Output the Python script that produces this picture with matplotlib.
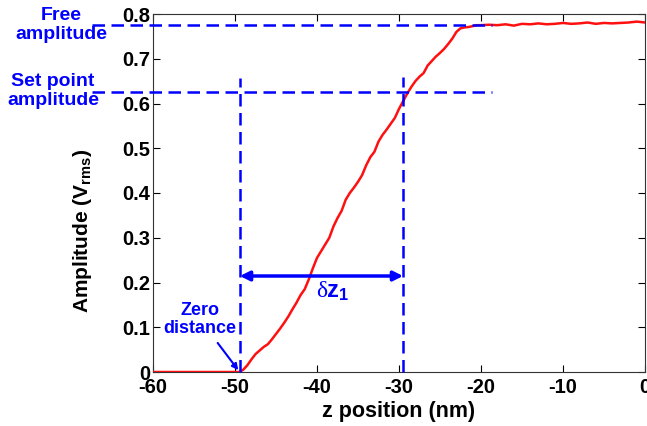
import matplotlib.pyplot as plt

# curve: z position (nm) and amplitude (V rms)
z_nm = [-60, -55, -49.5, -49.0, -48.5, -48.0, -47.5, -47.0, -46.5, -46.0, -45.5, -45.0,
        -44.5, -44.0, -43.5, -43.0, -42.5, -42.0, -41.5, -41.0, -40.5, -40.0, -39.5,
        -39.0, -38.5, -38.0, -37.5, -37.0, -36.5, -36.0, -35.5, -35.0, -34.5, -34.0,
        -33.5, -33.0, -32.5, -32.0, -31.5, -31.0, -30.5, -30.0, -29.5, -29.0, -28.5,
        -28.0, -27.5, -27.0, -26.5, -26.0, -25.5, -25.0, -24.5, -24.0, -23.5, -23.0,
        -22.5, -22.0, -21.5, -21.0, -20.5, -20.0, -19, -18, -17, -16, -15, -14, -13,
        -12, -11, -10, -9, -8, -7, -6, -5, -4, -3, -2, -1, 0]
amp = [0.0, 0.0, 0.0, 0.005, 0.015, 0.028, 0.040, 0.048, 0.056, 0.062, 0.073, 0.085,
       0.097, 0.110, 0.124, 0.140, 0.155, 0.172, 0.185, 0.207, 0.232, 0.255, 0.270,
       0.285, 0.300, 0.325, 0.344, 0.360, 0.385, 0.400, 0.412, 0.425, 0.440, 0.462,
       0.480, 0.492, 0.515, 0.530, 0.542, 0.555, 0.568, 0.588, 0.605, 0.622, 0.637,
       0.650, 0.660, 0.668, 0.685, 0.695, 0.705, 0.713, 0.722, 0.733, 0.745, 0.760,
       0.768, 0.770, 0.771, 0.773, 0.775, 0.775, 0.776, 0.775, 0.777, 0.774, 0.778,
       0.777, 0.779, 0.777, 0.778, 0.780, 0.778, 0.779, 0.781, 0.778, 0.780, 0.779,
       0.780, 0.781, 0.783, 0.781]

free_amp = 0.775
setpoint_amp = 0.626
z_zero = -49.4
z_set = -29.5
x_ticks = [-60, -50, -40, -30, -20, -10, 0]
y_ticks = [0, 0.1, 0.2, 0.3, 0.4, 0.5, 0.6, 0.7, 0.8]

plt.rcParams['font.family'] = ['Liberation Sans', 'DejaVu Sans']
plt.rcParams['mathtext.fontset'] = 'custom'
plt.rcParams['mathtext.rm'] = 'Liberation Sans'
plt.rcParams['mathtext.bf'] = 'Liberation Sans:bold'
blue = '#0000ff'

fig = plt.figure(figsize=(6.47, 4.26), dpi=100)
ax = fig.add_axes([153 / 647, 54 / 426, 492 / 647, 358 / 426])

ax.plot(z_nm, amp, color='#ff1010', lw=1.8, zorder=3)

dash = dict(color=blue, lw=1.8, dashes=(5, 2.6), clip_on=False, zorder=4)
# horizontal guides reach out past the left spine
ax.plot([-67.5, -18.6], [free_amp, free_amp], **dash)
ax.plot([-67.5, -18.6], [setpoint_amp, setpoint_amp], **dash)
ax.plot([z_zero, z_zero], [0, 0.657], **dash)
ax.plot([z_set, z_set], [0, 0.66], **dash)

ax.annotate('', xy=(z_zero, 0.2145), xytext=(z_set, 0.2145),
            arrowprops=dict(arrowstyle='<|-|>', color=blue, lw=2.5,
                            mutation_scale=14, shrinkA=0, shrinkB=0))
ax.text(-38.8, 0.180, 'δ', color=blue, fontsize=17, family='Liberation Serif',
        ha='right', va='center')
ax.text(-38.9, 0.178, r'$\mathbf{z_1}$', color=blue, fontsize=17, ha='left', va='center')

ax.annotate('Zero\ndistance', xy=(z_zero - 0.2, 0.004), xytext=(-54.3, 0.118),
            color=blue, fontsize=13, fontweight='bold', ha='center', va='center',
            linespacing=1.1,
            arrowprops=dict(arrowstyle='-|>', color=blue, lw=1.5, mutation_scale=9,
                            shrinkA=3, shrinkB=0))

fig.text(61 / 647, 1 - 25 / 426, 'Free\namplitude', color=blue, fontsize=14,
         fontweight='bold', ha='center', va='center', linespacing=1.1)
fig.text(53 / 647, 1 - 91 / 426, 'Set point\namplitude', color=blue, fontsize=14,
         fontweight='bold', ha='center', va='center', linespacing=1.1)

ax.set_xlim(-60, 0)
ax.set_ylim(0, 0.8)
ax.set_xticks(x_ticks)
ax.set_yticks(y_ticks)
ax.set_xticklabels([str(t) for t in x_ticks])
ax.set_yticklabels(['0'] + ['%.1f' % t for t in y_ticks[1:]])
ax.tick_params(direction='in', top=True, right=True, length=5, width=0.8,
               labelsize=14.5)
ax.tick_params(axis='x', pad=4)
ax.tick_params(axis='y', pad=2)
for lab in ax.get_xticklabels() + ax.get_yticklabels():
    lab.set_fontweight('bold')
for s in ax.spines.values():
    s.set_linewidth(0.8)
    s.set_color('#333333')

ax.set_xlabel('z position (nm)', fontsize=15.5, fontweight='bold', labelpad=3)
ax.set_ylabel(r'Amplitude (V$_{\mathbf{rms}}$)', fontsize=15, fontweight='bold')
# label sits a bit below the axes centre in the original
ax.yaxis.set_label_coords(-0.12, 0.395)

fig.savefig('out.png', dpi=100)
